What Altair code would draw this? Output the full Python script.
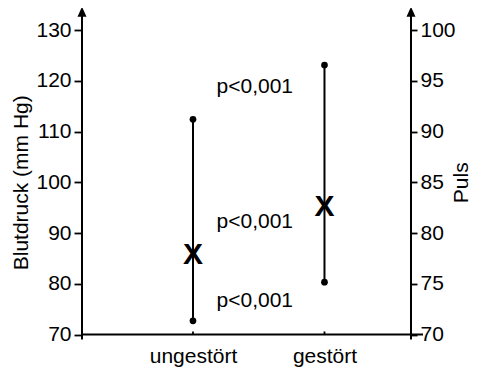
import altair as alt
import pandas as pd

# ---- data ----
categories = ["ungestört", "gestört"]
cat_pos = [1, 2]
systolic = [112.4, 123.1]      # Blutdruck (mm Hg), upper dot
diastolic = [72.7, 80.3]       # Blutdruck (mm Hg), lower dot
pulse = [77.8, 82.6]           # Puls, "X" marker
p_labels = ["p<0,001", "p<0,001", "p<0,001"]
p_label_bp = [118.8, 92.2, 76.6]
p_label_x = [1.47, 1.47, 1.47]

bp_ticks = [70, 80, 90, 100, 110, 120, 130]
puls_ticks = [70, 75, 80, 85, 90, 95, 100]

FONT = "Liberation Sans, Arial, Helvetica, sans-serif"
W, H = 329, 304.5

df = pd.DataFrame({"x": cat_pos, "cat": categories, "sys": systolic,
                   "dia": diastolic, "puls": pulse})
dots = pd.DataFrame({"x": cat_pos * 2, "bp": systolic + diastolic})
ptxt = pd.DataFrame({"x": p_label_x, "bp": p_label_bp, "t": p_labels})

label_expr = "datum.value == 1 ? 'ungestört' : (datum.value == 2 ? 'gestört' : '')"
xdef = dict(
    scale=alt.Scale(domain=[0.156, 2.658], nice=False, zero=False),
    axis=alt.Axis(values=[1, 2], labelExpr=label_expr, domain=False, ticks=False,
                  grid=False, title=None, labelFont=FONT, labelFontSize=21,
                  labelColor="black", labelPadding=11, labelFlush=False),
)

bp_scale = alt.Scale(domain=[70, 130], nice=False, zero=False)
bp_axis = alt.Axis(values=bp_ticks, domain=False, grid=False, tickSize=8,
                   tickWidth=1.8, tickColor="black", labelFont=FONT,
                   labelFontSize=21, labelColor="black", labelPadding=3,
                   title="Blutdruck (mm Hg)", titleFont=FONT, titleFontSize=21,
                   titleFontWeight="normal", titleColor="black", titlePadding=4)


def Ybp(field):
    return alt.Y(field, type="quantitative", scale=bp_scale, axis=bp_axis)


base = alt.Chart(df)

vlines = base.mark_rule(color="black", strokeWidth=2).encode(
    x=alt.X("x:Q", **xdef), y=Ybp("dia"), y2="sys:Q")

points = alt.Chart(dots).mark_circle(color="black", size=45, opacity=1).encode(
    x=alt.X("x:Q", **xdef), y=Ybp("bp"))

ptext = alt.Chart(ptxt).mark_text(font=FONT, fontSize=21, color="black",
                                  align="center", baseline="middle").encode(
    x=alt.X("x:Q", **xdef), y=Ybp("bp"), text="t:N")

# axis decorations (lines and arrow heads)
vaxes = pd.DataFrame({"lo": [69.0], "hi": [133.0]})
left_line = alt.Chart(vaxes).mark_rule(color="black", strokeWidth=2).encode(
    x=alt.value(0), y=Ybp("lo"), y2="hi:Q")
right_line = alt.Chart(vaxes).mark_rule(color="black", strokeWidth=2).encode(
    x=alt.value(W), y=Ybp("lo"), y2="hi:Q")
bottom = pd.DataFrame({"b": [70]})
bottom_line = alt.Chart(bottom).mark_rule(color="black", strokeWidth=2).encode(
    x=alt.value(-1), x2=alt.value(W + 12), y=Ybp("b"))
xt = pd.DataFrame({"x": cat_pos, "lo": [70, 70], "hi": [70.6, 70.6]})
xticks = alt.Chart(xt).mark_rule(color="black", strokeWidth=1.8).encode(
    x=alt.X("x:Q", **xdef), y=Ybp("lo"), y2="hi:Q")
arr = pd.DataFrame({"a": [133.6]})
arrow_shape = "M0,-1L0.9,1L-0.9,1Z"
left_arrow = alt.Chart(arr).mark_point(shape=arrow_shape, filled=True, color="black",
                                       size=100, opacity=1).encode(
    x=alt.value(0), y=Ybp("a"))
right_arrow = alt.Chart(arr).mark_point(shape=arrow_shape, filled=True, color="black",
                                        size=100, opacity=1).encode(
    x=alt.value(W), y=Ybp("a"))

bp_layer = alt.layer(left_line, right_line, bottom_line, xticks, left_arrow,
                     right_arrow, vlines, points, ptext)

puls_layer = base.mark_text(text="X", font=FONT, fontSize=30, fontWeight="bold",
                            color="black", align="center", baseline="middle").encode(
    x=alt.X("x:Q", **xdef),
    y=alt.Y("puls:Q", scale=alt.Scale(domain=[70, 100], nice=False, zero=False),
            axis=alt.Axis(orient="right", values=puls_ticks, domain=False, grid=False,
                          tickSize=6, tickWidth=1.8, tickColor="black", labelFont=FONT,
                          labelFontSize=21, labelColor="black", labelPadding=3,
                          title="Puls", titleFont=FONT, titleFontSize=21,
                          titleFontWeight="normal", titleColor="black",
                          titleAngle=270, titleBaseline="middle", titlePadding=6)))

chart = alt.layer(bp_layer, puls_layer).resolve_scale(y="independent").properties(
    width=W, height=H,
    autosize=alt.AutoSizeParams(type="none"),
    padding={"left": 74, "top": 22, "right": 61, "bottom": 36},
    background="white",
).configure_view(stroke=None)

chart.save("out.html", embed_options={"renderer": "svg", "actions": False})
